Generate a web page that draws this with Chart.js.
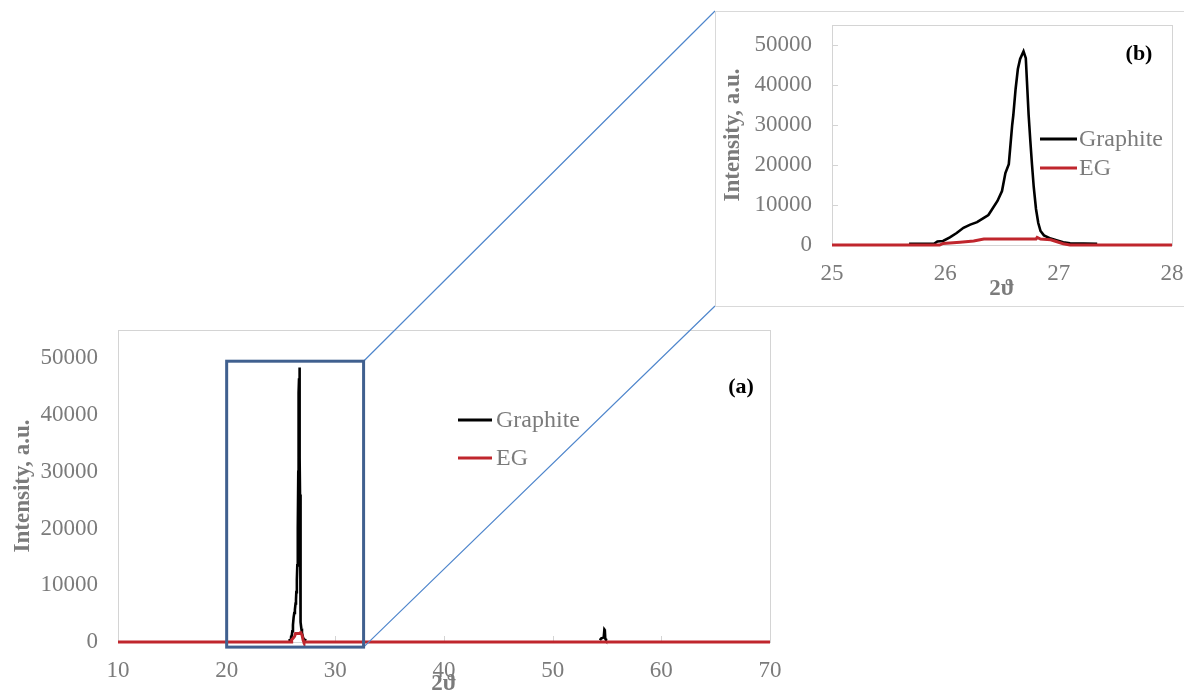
<!DOCTYPE html>
<html><head><meta charset="utf-8">
<script src="https://cdn.jsdelivr.net/npm/chart.js@4"></script>
<style>
html,body{margin:0;padding:0;width:1184px;height:698px;overflow:hidden;background:#fff;}
#mainWrap{position:absolute;left:0;top:0;width:1184px;height:698px;}
#insetFrame{position:absolute;left:715px;top:11px;width:480px;height:294px;border:1px solid #d9d9d9;background:#fff;}
#insetWrap{position:absolute;left:0;top:0;width:468px;height:294px;}
</style></head>
<body>
<div id="mainWrap"><canvas id="mainChart"></canvas></div>
<div id="insetFrame"><div id="insetWrap"><canvas id="insetChart"></canvas></div></div>
<script>
// ---------- data ----------
const seriesNames = ['Graphite', 'EG'];
const graphiteX = [25.68, 25.90, 25.93, 25.98, 26.04, 26.10, 26.16, 26.22, 26.28, 26.34, 26.38, 26.41, 26.46, 26.50, 26.53, 26.56, 26.59, 26.60, 26.62, 26.64, 26.66, 26.69, 26.71, 26.72, 26.735, 26.75, 26.765, 26.78, 26.80, 26.82, 26.84, 26.87, 26.93, 26.98, 27.04, 27.10, 27.34,
  40,
  54.35, 54.45, 54.70, 54.76, 54.80, 54.84, 54.90, 55.0];
const graphiteY = [300, 300, 900, 1000, 1900, 3000, 4300, 5100, 5700, 6800, 7500, 8800, 11000, 13500, 18000, 20200, 30000, 32500, 39000, 44000, 46500, 48400, 46700, 41000, 32500, 26000, 20000, 14500, 9000, 5500, 3500, 2400, 1600, 1200, 700, 400, 300,
  null,
  300, 600, 800, 2200, 2100, 600, 400, 300];
const egX = [10, 25.95, 25.98, 26.13, 26.25, 26.34, 26.80, 26.81, 26.84, 26.93, 26.985, 27.04, 27.10, 70];
const egY = [0, 0, 400, 700, 1000, 1500, 1500, 1900, 1500, 1300, 800, 300, 0, 0];
const mainXTicks = [10, 20, 30, 40, 50, 60, 70];
const insetXTicks = [25, 26, 27, 28];
const yTicks = [0, 10000, 20000, 30000, 40000, 50000];
const zoomRegion = {x0: 20, x1: 32.6, y0: -900, y1: 49500};

// ---------- helpers ----------
const FONT = '"Liberation Serif", "DejaVu Serif", serif';
const GRAY = '#7b7b7b';
const toPts = (xs, ys) => xs.map((x, i) => ({x: x, y: ys[i]}));

function makeDatasets() {
  return [
    {label: seriesNames[0], data: toPts(graphiteX, graphiteY), borderColor: '#000000', borderWidth: 2.6, order: 1},
    {label: seriesNames[1], data: toPts(egX, egY), borderColor: '#c0262d', borderWidth: 3, order: 0}
  ].map(d => Object.assign(d, {showLine: true, pointRadius: 0, spanGaps: false, tension: 0, fill: false,
    clip: {left: 0, right: 0, top: 6, bottom: 6}}));
}

const framePlugin = {
  id: 'frame',
  beforeDatasetsDraw(chart, args, o) {
    const {ctx, chartArea: a, scales: {x, y}} = chart;
    ctx.save();
    ctx.strokeStyle = '#d4d4d4';
    ctx.lineWidth = 1;
    ctx.strokeRect(Math.round(a.left) + 0.5, Math.round(a.top) + 0.5, Math.round(a.right - a.left), Math.round(a.bottom - a.top));
    ctx.beginPath();
    if (o.xTickLen) x.ticks.forEach(t => {
      const px = Math.round(x.getPixelForValue(t.value)) + 0.5;
      ctx.moveTo(px, a.bottom); ctx.lineTo(px, a.bottom - o.xTickLen);
    });
    if (o.yTickLen) y.ticks.forEach(t => {
      const py = Math.round(y.getPixelForValue(t.value)) + 0.5;
      ctx.moveTo(a.left, py); ctx.lineTo(a.left + o.yTickLen, py);
    });
    ctx.stroke();
    ctx.restore();
  }
};

const legendPlugin = {
  id: 'customLegend',
  afterDatasetsDraw(chart, args, o) {
    const {ctx, chartArea: a} = chart;
    ctx.save();
    ctx.font = '24px ' + FONT;
    ctx.textBaseline = 'middle';
    ctx.textAlign = 'left';
    chart.data.datasets.forEach((ds, i) => {
      const y = a.top + o.y0 + i * o.dy;
      const x = a.left + o.x0;
      ctx.strokeStyle = ds.borderColor;
      ctx.lineWidth = 3;
      ctx.beginPath(); ctx.moveTo(x, y); ctx.lineTo(x + o.len, y); ctx.stroke();
      ctx.fillStyle = GRAY;
      ctx.fillText(ds.label, x + o.len + o.gap, y + 1);
    });
    ctx.font = 'bold 22px ' + FONT;
    ctx.fillStyle = '#000';
    ctx.textAlign = 'center';
    ctx.fillText(o.tag, a.left + o.tagX, a.top + o.tagY);
    ctx.restore();
  }
};

const zoomPlugin = {
  id: 'zoomBox',
  afterDraw(chart) {
    const {ctx, scales: {x, y}} = chart;
    const L = x.getPixelForValue(zoomRegion.x0), R = x.getPixelForValue(zoomRegion.x1);
    const T = y.getPixelForValue(zoomRegion.y1), B = y.getPixelForValue(zoomRegion.y0);
    const f = document.getElementById('insetFrame');
    const fx = f.offsetLeft, fy = f.offsetTop, fh = f.offsetHeight;
    ctx.save();
    ctx.strokeStyle = '#4f86cc';
    ctx.lineWidth = 1.2;
    ctx.beginPath();
    ctx.moveTo(R, T); ctx.lineTo(fx, fy);
    ctx.moveTo(R, B); ctx.lineTo(fx, fy + fh - 1);
    ctx.stroke();
    ctx.strokeStyle = '#40608f';
    ctx.lineWidth = 3;
    ctx.strokeRect(L, T, R - L, B - T);
    ctx.restore();
  }
};

function noPad(s) { s.paddingTop = 0; s.paddingBottom = 0; s.paddingLeft = 0; s.paddingRight = 0; }

function scales(xMin, xMax, xTicks, yWidth, xHeight, yTitlePad, xTitlePad) {
  const tickFont = {family: FONT, size: 23};
  const titleFont = {family: FONT, size: 23, weight: 'bold'};
  return {
    x: {
      type: 'linear', min: xMin, max: xMax,
      afterBuildTicks: s => { s.ticks = xTicks.map(v => ({value: v})); },
      afterFit: s => { s.height = xHeight; noPad(s); },
      grid: {display: false, drawTicks: false}, border: {display: false},
      ticks: {font: tickFont, color: GRAY, padding: 15, maxRotation: 0, autoSkip: false, callback: v => String(v)},
      title: {display: true, text: '2ϑ', font: titleFont, color: GRAY, padding: {top: 0, bottom: xTitlePad}}
    },
    y: {
      type: 'linear', min: 0, max: 55000,
      afterBuildTicks: s => { s.ticks = yTicks.map(v => ({value: v})); },
      afterFit: s => { s.width = yWidth; noPad(s); },
      grid: {display: false, drawTicks: false}, border: {display: false},
      ticks: {font: tickFont, color: GRAY, padding: 20, callback: v => String(v)},
      title: {display: true, text: 'Intensity, a.u.', font: titleFont, color: GRAY, padding: {top: yTitlePad, bottom: 0}}
    }
  };
}

const common = {
  responsive: true, maintainAspectRatio: false, devicePixelRatio: 1, animation: false,
  events: []
};

new Chart(document.getElementById('mainChart'), {
  type: 'scatter',
  data: {datasets: makeDatasets()},
  plugins: [framePlugin, legendPlugin, zoomPlugin],
  options: Object.assign({}, common, {
    layout: {padding: {left: 0, top: 330, right: 414, bottom: 0}},
    scales: scales(10, 70, mainXTicks, 118, 56, 9, 0),
    plugins: {
      legend: {display: false}, tooltip: {enabled: false},
      frame: {xTickLen: 6, yTickLen: 0},
      customLegend: {x0: 340, y0: 90, dy: 38, len: 34, gap: 4, tag: '(a)', tagX: 623, tagY: 57}
    }
  })
});

new Chart(document.getElementById('insetChart'), {
  type: 'scatter',
  data: {datasets: makeDatasets()},
  plugins: [framePlugin, legendPlugin],
  options: Object.assign({}, common, {
    layout: {padding: {left: 0, top: 13, right: 12, bottom: 0}},
    scales: scales(25, 28, insetXTicks, 116, 61, 3, 3),
    plugins: {
      legend: {display: false}, tooltip: {enabled: false},
      frame: {xTickLen: 0, yTickLen: 6},
      customLegend: {x0: 208, y0: 114, dy: 29, len: 37, gap: 2, tag: '(b)', tagX: 307, tagY: 29}
    }
  })
});
</script>
</body></html>
